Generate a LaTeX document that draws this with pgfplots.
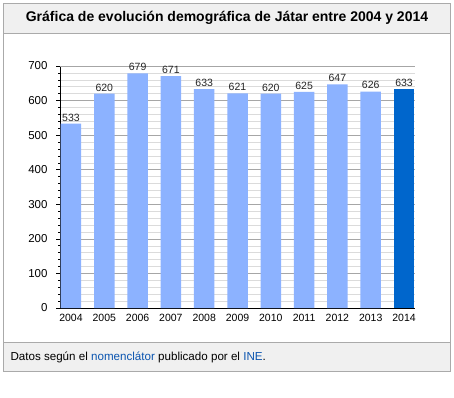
\documentclass[border=0pt]{standalone}
\usepackage{pgfplots}
\pgfplotsset{compat=1.18}
\usepackage{fontspec}
\setmainfont{Liberation Sans}
\definecolor{barlight}{HTML}{8CB2FF}
\definecolor{bardark}{HTML}{0066CC}
\definecolor{bandgray}{HTML}{F0F0F0}
\definecolor{framegray}{HTML}{AAAAAA}
\definecolor{linkblue}{HTML}{0B55B0}
\begin{document}
\begin{tikzpicture}
\path[use as bounding box] (0pt,0pt) rectangle (454pt,397pt);
% outer frame and bands
\fill[white] (3pt,26pt) rectangle (450pt,394pt);
\fill[bandgray] (3pt,364pt) rectangle (450pt,394pt);
\fill[bandgray] (3pt,26pt) rectangle (450pt,55pt);
\draw[framegray,line width=0.8pt] (3pt,364pt) -- (450pt,364pt);
\draw[framegray,line width=0.8pt] (3pt,55pt) -- (450pt,55pt);
\draw[framegray,line width=0.8pt] (3pt,26pt) rectangle (450pt,394pt);
\node[font=\bfseries\fontsize{14}{16}\selectfont] at (227pt,379pt) {Gráfica de evolución demográfica de Játar entre 2004 y 2014};
\node[anchor=west,font=\fontsize{11.6}{13}\selectfont] at (7pt,40pt) {Datos según el \textcolor{linkblue}{nomenclátor} publicado por el \textcolor{linkblue}{INE}.};
\begin{axis}[
  at={(60pt,89pt)}, anchor=south west,
  scale only axis, width=355pt, height=242pt,
  xmin=-0.33, xmax=10.33, ymin=0, ymax=700,
  axis lines*=left,
  axis line style={black, line width=0.8pt, -},
  ybar, bar width=20.5pt, bar shift=0pt,
  xtick={0,...,10},
  xticklabels={2004,2005,2006,2007,2008,2009,2010,2011,2012,2013,2014},
  x tick label style={font=\fontsize{10.5}{12}\selectfont, yshift=1pt},
  xtick style={draw=none},
  ytick={0,100,...,700},
  minor y tick num=4,
  y tick label style={font=\fontsize{11.5}{13}\selectfont, xshift=-5pt},
  /pgf/number format/assume math mode=true,
  ytick style={black, line width=0.6pt},
  tick align=outside,
  major tick length=4pt, minor tick length=2pt,
  ymajorgrids, yminorgrids,
  major grid style={draw=black!35, line width=0.6pt},
  minor grid style={draw=black!14, line width=0.5pt},
  nodes near coords,
  every node near coord/.append style={font=\fontsize{10.5}{12}\selectfont, black!85, yshift=-1pt},
  clip=false,
]
\addplot[fill=barlight, draw=none] coordinates {(0,533) (1,620) (2,679) (3,671) (4,633) (5,621) (6,620) (7,625) (8,647) (9,626)};
\addplot[fill=bardark, draw=none] coordinates {(10,633)};
\draw[black!35, line width=0.6pt] (axis cs:-0.33,700) -- (axis cs:10.33,700);
\end{axis}
\end{tikzpicture}
\end{document}
